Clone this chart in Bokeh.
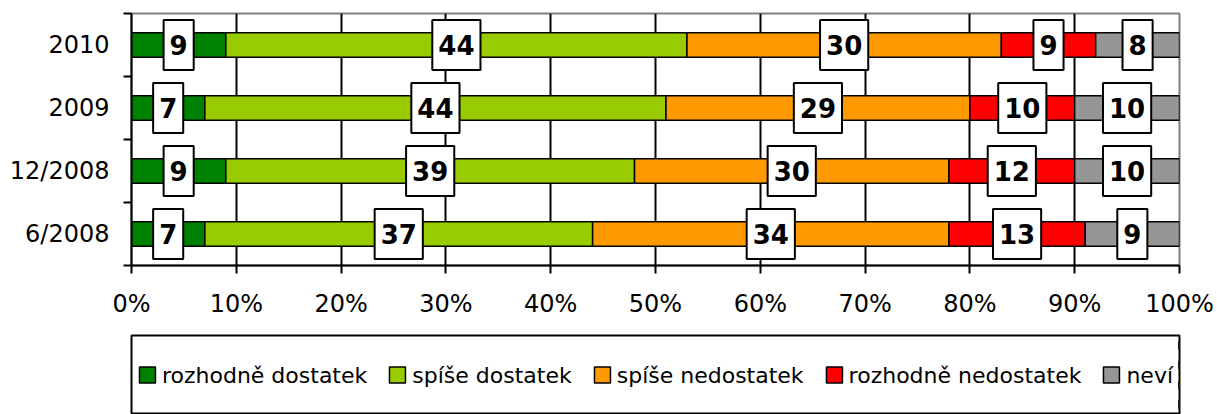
import numpy as np
from bokeh.plotting import figure
from bokeh.layouts import column
from bokeh.models import (ColumnDataSource, FactorRange, Range1d, LinearAxis, CategoricalAxis,
                          FixedTicker, PrintfTickFormatter, Legend, LegendItem)
from bokeh.core.properties import value
from bokeh.embed import file_html
from bokeh.resources import INLINE

# ---- data ----
years = ["2010", "2009", "12/2008", "6/2008"]
series = ["rozhodně dostatek", "spíše dostatek", "spíše nedostatek", "rozhodně nedostatek", "neví"]
rozhodne_dostatek = [9, 7, 9, 7]
spise_dostatek = [44, 44, 39, 37]
spise_nedostatek = [30, 29, 30, 34]
rozhodne_nedostatek = [9, 10, 12, 13]
nevi = [8, 10, 10, 9]
colors = ["#008000", "#99CC00", "#FF9900", "#FF0000", "#969696"]
x_ticks = [0, 10, 20, 30, 40, 50, 60, 70, 80, 90, 100]
grid_ticks = [10, 20, 30, 40, 50, 60, 70, 80, 90]

FONT = "DejaVu Sans"

values = [rozhodne_dostatek, spise_dostatek, spise_nedostatek, rozhodne_nedostatek, nevi]
keys = ["s%d" % i for i in range(len(series))]
data = {"year": years}
for k, v in zip(keys, values):
    data[k] = v
source = ColumnDataSource(data)

# ---------------- main chart ----------------
p = figure(width=1217, height=334,
           y_range=FactorRange(factors=list(reversed(years))),
           x_range=Range1d(0, 100),
           output_backend="svg", toolbar_location=None, y_axis_location=None,
           min_border_left=131, min_border_right=38, min_border_top=13, min_border_bottom=69)
p.background_fill_color = "white"
p.border_fill_color = "white"
p.outline_line_color = "#808080"
p.outline_line_width = 2

renderers = p.hbar_stack(keys, y="year", height=0.39, color=colors,
                         line_color="black", line_width=1.5, source=source)

# value labels centred in each segment
arr = np.array(values, dtype=float)
starts = np.cumsum(arr, axis=0) - arr
centers = starts + arr / 2.0
lab = ColumnDataSource(dict(
    x=centers.flatten(),
    y=[y for _ in series for y in years],
    text=[str(int(v)) for v in arr.flatten()],
))
p.text(x="x", y="y", text="text", source=lab, text_align="center", text_baseline="middle",
       text_font=value(FONT), text_font_size="26px", text_font_style="bold", text_color="black",
       background_fill_color="white", border_line_color="black", border_line_width=2,
       padding=dict(left=6, right=6, top=15, bottom=15))

# grid
p.xgrid.ticker = FixedTicker(ticks=grid_ticks)
p.xgrid.grid_line_color = "black"
p.xgrid.grid_line_width = 2
p.ygrid.visible = False

# x axis
xa = p.xaxis[0]
xa.ticker = FixedTicker(ticks=x_ticks)
xa.formatter = PrintfTickFormatter(format="%d%%")
xa.major_tick_out = 8
xa.major_tick_in = 0
xa.minor_tick_line_color = None
xa.axis_line_width = 2
xa.major_tick_line_width = 2
xa.major_label_text_font = FONT
xa.major_label_text_font_size = "24px"
xa.major_label_text_color = "black"
xa.major_label_standoff = 16

# y axes: boundary ticks (between categories) + category labels
edge_ticks = list(range(len(years) + 1))
edge_axis = LinearAxis(ticker=FixedTicker(ticks=edge_ticks),
                       major_label_overrides={i: "" for i in edge_ticks},
                       major_tick_out=8, major_tick_in=0, major_tick_line_width=2,
                       minor_tick_line_color=None, axis_line_width=2, major_label_standoff=0)
p.add_layout(edge_axis, "left")
cat_axis = CategoricalAxis(axis_line_color=None, major_tick_line_color=None,
                           major_tick_out=0, major_tick_in=0, major_label_standoff=14,
                           major_label_text_font=FONT, major_label_text_font_size="24px",
                           major_label_text_color="black")
p.add_layout(cat_axis, "left")

# ---------------- legend panel ----------------
lg = figure(width=1217, height=80,
            x_range=Range1d(-2, -1), y_range=FactorRange(factors=list(reversed(years))),
            output_backend="svg", toolbar_location=None,
            x_axis_location=None, y_axis_location=None,
            min_border_left=23, min_border_right=8, min_border_top=1, min_border_bottom=0)
lg.xgrid.visible = False
lg.ygrid.visible = False
lg.background_fill_color = "white"
lg.border_fill_color = "white"
lg.outline_line_color = "black"
lg.outline_line_width = 2

# same stacked series (kept outside the visible range) provide the legend swatches
swatches = lg.hbar_stack(keys, y="year", height=0.39, color=colors,
                         line_color="black", line_width=1.5, source=source)

legend = Legend(items=[LegendItem(label=n, renderers=[r]) for n, r in zip(series, swatches)],
                orientation="horizontal", location="center", padding=0, margin=0,
                spacing=20, label_standoff=5, glyph_width=20, glyph_height=20,
                label_text_font=FONT, label_text_font_size="22px", label_text_color="black",
                border_line_color=None, background_fill_alpha=0)
lg.add_layout(legend, "center")

open("out.html", "w").write(file_html(column(p, lg), INLINE))
